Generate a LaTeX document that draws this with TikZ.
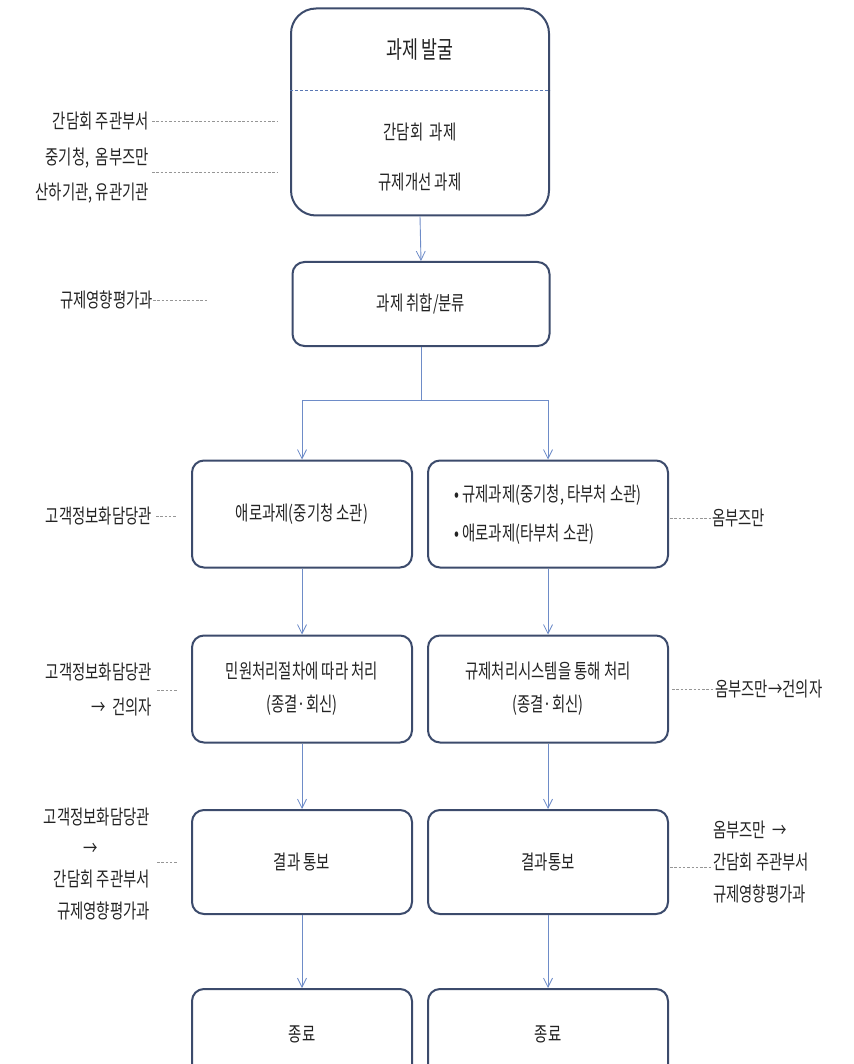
\documentclass[tikz,border=0pt]{standalone}
\usepackage{fontspec}
\setmainfont{Noto Sans CJK KR}[FakeStretch=0.72]
\usetikzlibrary{arrows.meta,positioning}
\definecolor{boxline}{RGB}{60,75,108}
\definecolor{conn}{RGB}{110,140,200}
\definecolor{dotc}{RGB}{150,150,150}
\definecolor{divc}{RGB}{90,120,180}
\definecolor{txt}{RGB}{35,35,35}
\tikzset{
  stepbox/.style={draw=boxline, line width=2pt, fill=white, rounded corners=12pt,
    align=center, text=txt, font=\fontsize{20}{33}\selectfont, inner sep=0pt},
  conarrow/.style={draw=conn, line width=0.9pt, -{Straight Barb[length=9pt,width=9pt,line width=0.8pt]}},
  conline/.style={draw=conn, line width=0.9pt},
  dotline/.style={draw=dotc, line width=0.9pt, dash pattern=on 2.5pt off 1.8pt},
  sidelabel/.style={text=txt, font=\fontsize{20}{32}\selectfont, inner sep=0pt},
  intext/.style={text=txt, font=\fontsize{20}{33}\selectfont, inner sep=0pt}
}
\begin{document}
\begin{tikzpicture}[x=1pt,y=-1pt]
\useasboundingbox (0,0) rectangle (853,1064);
\clip (0,0) rectangle (853,1064);

% Box 1
\node[stepbox, rounded corners=25pt, minimum width=258pt, minimum height=207pt] (b1) at (420,112) {};
\draw[divc, line width=0.9pt, dash pattern=on 3pt off 2pt] (b1.west |- 0,90) coordinate (dl) -- (b1.east |- 0,90) coordinate (dr);
\node[intext, font=\fontsize{24}{28}\selectfont] (t1) at (420,50) {과제 발굴};
\node[intext] (t2) at (420,132) {간담회\ \ 과제};
\node[intext] (t3) at (420,182) {규제개선 과제};

% Box 2
\node[stepbox, minimum width=257pt, minimum height=84pt] (b2) at (421,304) {과제 취합/분류};

% Row 3
\node[stepbox, minimum width=220pt, minimum height=107pt] (b3L) at (302,514) {애로과제(중기청 소관)};
\node[stepbox, minimum width=240pt, minimum height=107pt] (b3R) at (548,514)
  {\begin{tabular}{@{}l@{}}• 규제과제(중기청, 타부처 소관)\\[6pt]• 애로과제(타부처 소관)\end{tabular}};

% Row 4
\node[stepbox, minimum width=220pt, minimum height=107pt] (b4L) at (302,689) {민원처리절차에 따라 처리\\(종결·회신)};
\node[stepbox, minimum width=240pt, minimum height=107pt] (b4R) at (548,689) {규제처리시스템을 통해 처리\\(종결·회신)};

% Row 5
\node[stepbox, minimum width=220pt, minimum height=104pt] (b5L) at (302,862) {결과 통보};
\node[stepbox, minimum width=240pt, minimum height=104pt] (b5R) at (548,862) {결과통보};

% Row 6
\node[stepbox, minimum width=220pt, minimum height=90pt] (b6L) at (302,1034) {종료};
\node[stepbox, minimum width=240pt, minimum height=90pt] (b6R) at (548,1034) {종료};

% Connectors
\coordinate (split) at (421,400);
\draw[conarrow] (b1.south) -- (b2.north);
\draw[conline] (b2.south) -- (split);
\draw[conarrow] (split) -| (b3L.north);
\draw[conarrow] (split) -| (b3R.north);
\draw[conarrow] (b3L.south) -- (b4L.north);
\draw[conarrow] (b3R.south) -- (b4R.north);
\draw[conarrow] (b4L.south) -- (b5L.north);
\draw[conarrow] (b4R.south) -- (b5R.north);
\draw[conarrow] (b5L.south) -- (b6L.north);
\draw[conarrow] (b5R.south) -- (b6R.north);

% Left labels
\node[sidelabel, anchor=east] (l1) at (149,121) {간담회 주관부서};
\coordinate (e1) at (278,121);
\draw[dotline] (l1.east) ++(3,0) -- (e1);

\node[sidelabel, anchor=east, align=right, font=\fontsize{20}{35}\selectfont] (l2) at (149,176) {중기청,\ \ 옴부즈만\\산하기관, 유관기관};
\coordinate (e2) at (278,172);
\coordinate (s2) at (152,172);
\draw[dotline] (s2) -- (e2);

\node[sidelabel, anchor=east] (l3) at (153,300) {규제영향평가과};
\coordinate (e3) at (207,300);
\draw[dotline] (l3.east) -- (e3);

\node[sidelabel, anchor=east] (l4) at (152,516) {고객정보화담당관};
\coordinate (e4) at (177,516);
\draw[dotline] (l4.east) ++(4,0) -- (e4);

\node[sidelabel, anchor=east, align=right, font=\fontsize{20}{35}\selectfont] (l5) at (152,690) {고객정보화담당관\\→\ \ 건의자};
\coordinate (s5) at (157,690);
\coordinate (e5) at (178,690);
\draw[dotline] (s5) -- (e5);

\node[sidelabel, anchor=east, align=right, font=\fontsize{20}{31}\selectfont] (l6) at (150,864) {고객정보화담당관\\→\rule{52pt}{0pt}\\간담회 주관부서\\규제영향평가과};
\coordinate (s6) at (157,862);
\coordinate (e6) at (178,862);
\draw[dotline] (s6) -- (e6);

% Right labels
\node[sidelabel, anchor=west] (r1) at (712,518) {옴부즈만};
\coordinate (s7) at (670,518);
\draw[dotline] (s7) -- (r1.west);

\node[sidelabel, anchor=west] (r2) at (715,689) {옴부즈만→건의자};
\coordinate (s8) at (672,689);
\draw[dotline] (s8) -- (r2.west);

\node[sidelabel, anchor=west, align=left, font=\fontsize{20}{32}\selectfont] (r3) at (713,862) {옴부즈만\ \ →\\간담회 주관부서\\규제영향평가과};
\coordinate (s9) at (670,867);
\coordinate (e9) at (713,867);
\draw[dotline] (s9) -- (e9);

\end{tikzpicture}
\end{document}
